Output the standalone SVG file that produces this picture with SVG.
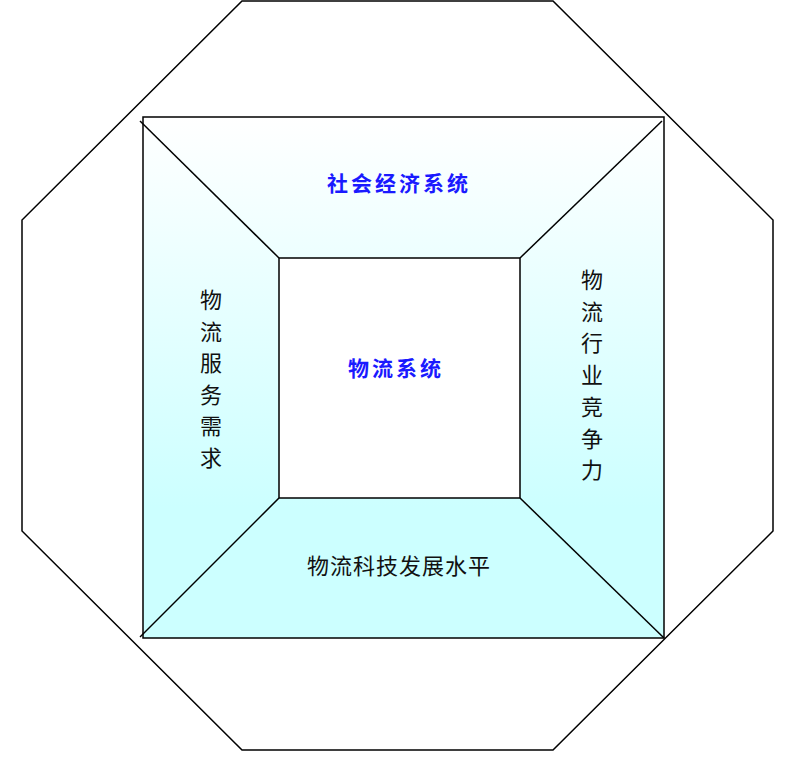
<svg xmlns="http://www.w3.org/2000/svg" width="800" height="758" viewBox="0 0 800 758">
<defs>
<linearGradient id="g" x1="0" y1="0" x2="0" y2="1">
<stop offset="0" stop-color="#ffffff"/>
<stop offset="0.75" stop-color="#ccffff"/>
<stop offset="1" stop-color="#ccffff"/>
</linearGradient>
<style>
.ln{fill:none;stroke:#000;stroke-width:1.5}
.t{font-family:"Noto Sans CJK SC","Noto Sans",sans-serif;font-size:22px;fill:#111;text-anchor:middle}
.b{fill:#1a1aff;font-size:21px;font-weight:bold;letter-spacing:3px}
</style>
</defs>
<rect width="800" height="758" fill="#fff"/>
<g id="octagon">
<polygon class="ln" points="242,1 553,1 773,220 773,531 553,750 242,750 22,531 22,220"/>
</g>
<g id="outer-square">
<rect x="143" y="117" width="521" height="521" fill="url(#g)" stroke="#000" stroke-width="1.5"/>
</g>
<g id="connectors">
<line class="ln" x1="140" y1="121" x2="279" y2="258"/>
<line class="ln" x1="662" y1="121" x2="520" y2="258"/>
<line class="ln" x1="140" y1="637" x2="279" y2="498"/>
<line class="ln" x1="664" y1="638" x2="520" y2="498"/>
</g>
<g id="inner-square">
<rect x="279" y="258" width="241" height="240" fill="#fff" stroke="#000" stroke-width="1.5"/>
</g>
<g id="label-top">
<text class="t b" x="399" y="191">社会经济系统</text>
</g>
<g id="label-center">
<text class="t b" x="396" y="376">物流系统</text>
</g>
<g id="label-left">
<text class="t" x="211" y="308">物<tspan x="211" dy="31.5">流</tspan><tspan x="211" dy="31.5">服</tspan><tspan x="211" dy="31.5">务</tspan><tspan x="211" dy="31.5">需</tspan><tspan x="211" dy="31.5">求</tspan></text>
</g>
<g id="label-right">
<text class="t" x="592" y="288">物<tspan x="592" dy="31.7">流</tspan><tspan x="592" dy="31.7">行</tspan><tspan x="592" dy="31.7">业</tspan><tspan x="592" dy="31.7">竞</tspan><tspan x="592" dy="31.7">争</tspan><tspan x="592" dy="31.7">力</tspan></text>
</g>
<g id="label-bottom">
<text class="t" x="399" y="574" style="letter-spacing:1px">物流科技发展水平</text>
</g>
</svg>
